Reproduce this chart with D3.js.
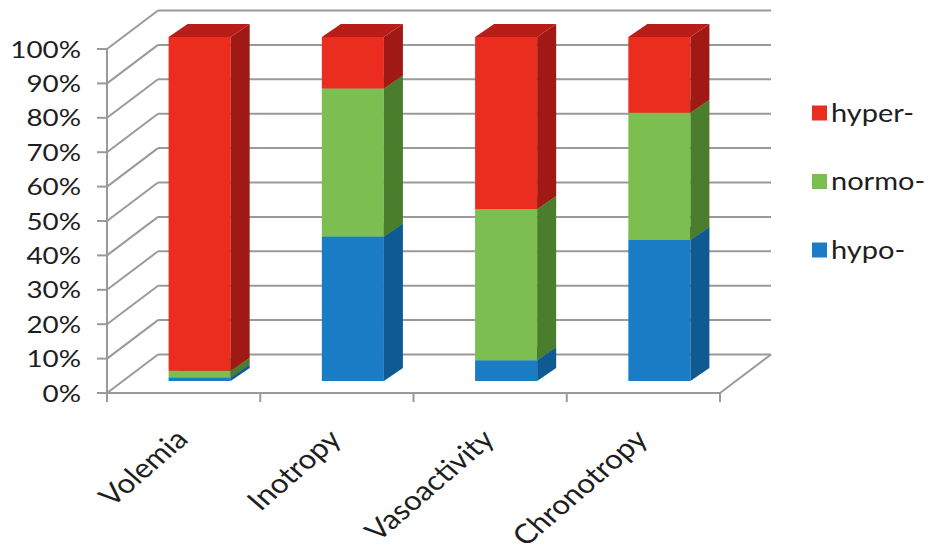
<!DOCTYPE html>
<html>
<head>
<meta charset="utf-8">
<script src="https://cdn.jsdelivr.net/npm/d3@7"></script>
<style>
  html, body { margin: 0; padding: 0; background: #fff; }
  svg { display: block; }
</style>
</head>
<body>
<svg id="chart" width="940" height="555"></svg>
<script>
// Categories and stacked percentages (hypo- at the bottom, hyper- on top)
const categories = ["Volemia", "Inotropy", "Vasoactivity", "Chronotropy"];
const hypo  = [1, 42, 6, 41];
const normo = [2, 43, 44, 37];
const hyper = [97, 15, 50, 22];
const seriesNames = ["hypo-", "normo-", "hyper-"];
const yTicks = [0, 10, 20, 30, 40, 50, 60, 70, 80, 90, 100];

const colors = {
  "hypo-":  { front: "#1b7cc6", side: "#105a94", top: "#14649f" },
  "normo-": { front: "#7cbf50", side: "#4a7e2c", top: "#5f9a3a" },
  "hyper-": { front: "#ea2d1f", side: "#a11914", top: "#b81d17" }
};

const FONT = "Lato, 'Open Sans', sans-serif";
const STRETCH = 1.16;   // text is drawn slightly wide

const svg = d3.select("#chart");

// Front plane of the plot: category band along x, percent along y
const x = d3.scaleBand().domain(categories).range([107, 720]).paddingInner(0).paddingOuter(0);
const y = d3.scaleLinear().domain([0, 100]).range([393, 49]);

// Oblique depth of the plot box and of each column
const depth = { dx: 51, dy: -38.5 };
const barOffset = { dx: 16, dy: -12 };   // column front face sits partway back
const barDepth = { dx: 19, dy: -13 };
const barWidthFrac = 0.405;

const gridColor = "#9a9a9a";

// Back-wall gridlines and the diagonal lines on the left side wall
const grid = svg.append("g");
yTicks.forEach(t => {
  const yf = y(t);
  grid.append("line")
    .attr("x1", x.range()[0]).attr("y1", yf)
    .attr("x2", x.range()[0] + depth.dx).attr("y2", yf + depth.dy)
    .attr("stroke", gridColor).attr("stroke-width", 2);
  grid.append("line")
    .attr("x1", x.range()[0] + depth.dx).attr("y1", yf + depth.dy)
    .attr("x2", x.range()[1] + depth.dx).attr("y2", yf + depth.dy)
    .attr("stroke", gridColor).attr("stroke-width", 2);
});

// Floor: right edge
grid.append("line")
  .attr("x1", x.range()[1]).attr("y1", y(0))
  .attr("x2", x.range()[1] + depth.dx).attr("y2", y(0) + depth.dy)
  .attr("stroke", gridColor).attr("stroke-width", 2);

// Stacked columns
const stackData = categories.map((c, i) => ({
  category: c, "hypo-": hypo[i], "normo-": normo[i], "hyper-": hyper[i]
}));
const stacked = d3.stack().keys(seriesNames)(stackData);

const bars = svg.append("g");
const bw = x.bandwidth() * barWidthFrac;
const poly = pts => "M" + pts.map(p => p.join(",")).join("L") + "Z";

categories.forEach((c, i) => {
  const x0 = x(c) + (x.bandwidth() - bw) / 2 + barOffset.dx;
  const x1 = x0 + bw;
  stacked.forEach(layer => {
    const d = layer[i];
    if (d[1] - d[0] <= 0) return;
    const yb = y(d[0]) + barOffset.dy;
    const yt = y(d[1]) + barOffset.dy;
    const col = colors[layer.key];
    const g = bars.append("g");
    // front face
    g.append("path").attr("d", poly([[x0, yb], [x1, yb], [x1, yt], [x0, yt]]))
      .attr("fill", col.front);
    // right side face
    g.append("path").attr("d", poly([
      [x1, yb], [x1 + barDepth.dx, yb + barDepth.dy],
      [x1 + barDepth.dx, yt + barDepth.dy], [x1, yt]
    ])).attr("fill", col.side);
    // top face
    g.append("path").attr("d", poly([
      [x0, yt], [x1, yt], [x1 + barDepth.dx, yt + barDepth.dy], [x0 + barDepth.dx, yt + barDepth.dy]
    ])).attr("fill", col.top);
  });
});

// Front axes
const axisG = svg.append("g");
axisG.append("line")
  .attr("x1", x.range()[0]).attr("y1", y(0))
  .attr("x2", x.range()[1]).attr("y2", y(0))
  .attr("stroke", gridColor).attr("stroke-width", 2);
axisG.append("line")
  .attr("x1", x.range()[0]).attr("y1", y(0))
  .attr("x2", x.range()[0]).attr("y2", y(100))
  .attr("stroke", gridColor).attr("stroke-width", 2);

// Y ticks and labels
yTicks.forEach(t => {
  axisG.append("line")
    .attr("x1", x.range()[0] - 10).attr("y1", y(t))
    .attr("x2", x.range()[0]).attr("y2", y(t))
    .attr("stroke", gridColor).attr("stroke-width", 2);
  axisG.append("text")
    .attr("transform", `translate(81,${y(t)}) scale(${STRETCH},1)`)
    .attr("dy", "0.36em")
    .attr("text-anchor", "end")
    .attr("font-family", FONT)
    .attr("font-size", 24)
    .attr("fill", "#1e1e1e")
    .text(t + "%");
});

// X ticks at category boundaries
const boundaries = categories.map(c => x(c)).concat([x.range()[1]]);
boundaries.forEach(bx => {
  axisG.append("line")
    .attr("x1", bx).attr("y1", y(0))
    .attr("x2", bx).attr("y2", y(0) + 9)
    .attr("stroke", gridColor).attr("stroke-width", 2);
});

// Rotated category labels
categories.forEach(c => {
  const cx = x(c) + x.bandwidth() / 2 + 6;
  axisG.append("text")
    .attr("transform", `translate(${cx},441) scale(${STRETCH},1) rotate(-45)`)
    .attr("text-anchor", "end")
    .attr("font-family", FONT)
    .attr("font-size", 27)
    .attr("fill", "#1e1e1e")
    .text(c);
});

// Legend (top to bottom: hyper-, normo-, hypo-)
const legendItems = ["hyper-", "normo-", "hypo-"];
const legend = svg.append("g");
legendItems.forEach((k, i) => {
  const cy = 113 + i * 68.5;
  legend.append("rect")
    .attr("x", 812).attr("y", cy - 7.5)
    .attr("width", 15).attr("height", 15)
    .attr("fill", colors[k].front);
  legend.append("text")
    .attr("transform", `translate(831,${cy}) scale(${STRETCH},1)`)
    .attr("dy", "0.35em")
    .attr("font-family", FONT)
    .attr("font-size", 25)
    .attr("fill", "#1e1e1e")
    .text(k);
});
</script>
</body>
</html>
